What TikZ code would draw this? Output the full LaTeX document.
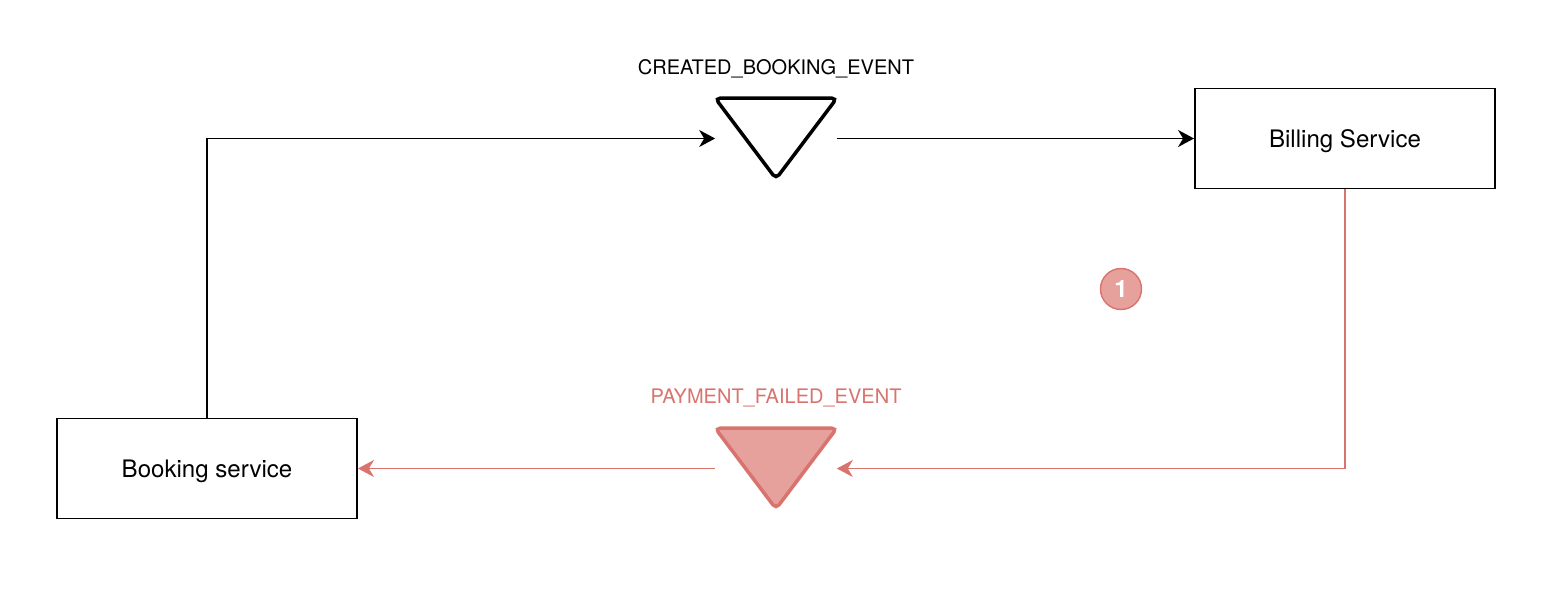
\documentclass[tikz,border=0pt]{standalone}
\usepackage{fontspec}
\setmainfont{TeX Gyre Heros}
\usetikzlibrary{arrows.meta}

\definecolor{failred}{HTML}{D8736E}
\definecolor{failfill}{HTML}{E6A19D}

\tikzset{
  service/.style={draw, line width=1.1pt, minimum width=6cm, minimum height=2cm,
    text depth=0pt, font=\fontsize{13.7}{16}\selectfont},
  event/.style={minimum width=2.42cm, minimum height=1.6cm, inner sep=0pt},
  evlabel/.style={font=\fontsize{11.4}{14}\selectfont},
  flow/.style={line width=1pt, -{Stealth[length=0.32cm, width=0.34cm, inset=0.1cm]}},
}

\begin{document}
\begin{tikzpicture}[x=0.02cm, y=-0.02cm]
        \useasboundingbox (0,0) rectangle (1556,602);

        \begin{scope}[every node/.style={service}]
          \node (bk) at (207,468.5)  {Booking service};
          \node (bl) at (1345,138.5) {Billing Service};
        \end{scope}

        % event queues
        \node[event] (ev1) at (776,138.5) {};
        \node[event] (ev2) at (776,468.5) {};
        \draw[line width=2pt, rounded corners=0.1cm]
          (ev1.north west) -- (ev1.north east) -- (ev1.south) -- cycle;
        \draw[line width=2pt, rounded corners=0.1cm, draw=failred, fill=failfill]
          (ev2.north west) -- (ev2.north east) -- (ev2.south) -- cycle;

        \node[evlabel] (l1) at (776,69)  {CREATED\_BOOKING\_EVENT};
        \node[evlabel, text=failred] (l2) at (776,398) {PAYMENT\_FAILED\_EVENT};

        \node[circle, draw=failred, fill=failfill, line width=0.8pt, minimum size=0.82cm,
          inner sep=0pt, text=white, font=\fontsize{13.7}{16}\selectfont\bfseries] (n1)
          at (1121,289) {1};

        \draw[flow] (bk.north) |- (ev1.west);
        \draw[flow] (ev1.east) -- (bl.west);
        \draw[flow, failred] (bl.south) |- (ev2.east);
        \draw[flow, failred] (ev2.west) -- (bk.east);

      \end{tikzpicture}
\end{document}
